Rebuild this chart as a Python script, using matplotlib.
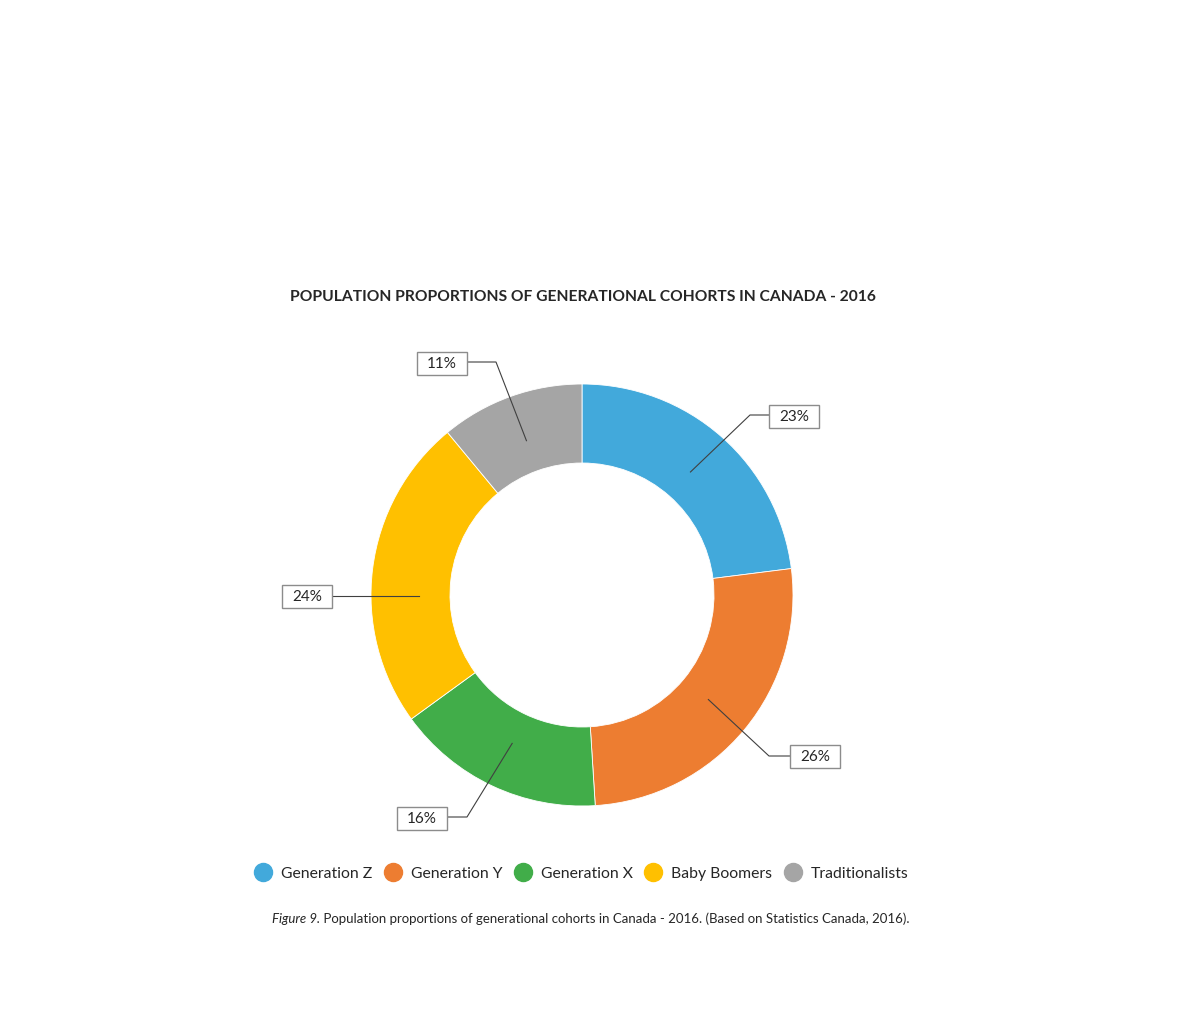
import numpy as np
import matplotlib
matplotlib.use("Agg")
from matplotlib import pyplot as plt
from matplotlib.patches import Rectangle
from matplotlib.lines import Line2D

plt.rcParams["font.family"] = ["Lato", "DejaVu Sans"]

# data
cohorts = ["Generation Z", "Generation Y", "Generation X", "Baby Boomers", "Traditionalists"]
shares = [23, 26, 16, 24, 11]
colors = ["#42A9DB", "#ED7D31", "#41AD49", "#FFC000", "#A5A5A5"]

title = "POPULATION PROPORTIONS OF GENERATIONAL COHORTS IN CANADA - 2016"
caption_italic = "Figure 9."
caption_rest = " Population proportions of generational cohorts in Canada - 2016. (Based on Statistics Canada, 2016)."

W, H = 1200, 1020
fig = plt.figure(figsize=(W / 100, H / 100), dpi=100)
ax = fig.add_axes([0, 0, 1, 1])

# donut, pixel coords (y up)
cx, cy = 582, H - 596
R = 211
ring = 79
wedges, _ = ax.pie(shares, colors=colors, startangle=90, counterclock=False,
                   radius=R, center=(cx, cy),
                   wedgeprops=dict(width=ring, edgecolor="white", linewidth=0.6))
ax.set_xlim(0, W)
ax.set_ylim(0, H)
ax.set_aspect("equal")
ax.axis("off")

# label callouts: elbow point (None = straight line) and box centre, top-down y
elbows = [(750, 416), (769, 757), (467, 818), None, (496, 363)]
boxes = [(794, 417), (815, 757), (421.5, 819), (307, 597), (441.5, 364)]
bw, bh = 50, 23
r_anchor = 164
for w, val, elb, (bx, by) in zip(wedges, shares, elbows, boxes):
    ang = np.deg2rad((w.theta1 + w.theta2) / 2)
    axp, ayp = cx + r_anchor * np.cos(ang), cy + r_anchor * np.sin(ang)
    by = H - by
    if elb is None:
        ex, ey = axp, by
        ayp = by
    else:
        ex, ey = elb[0], H - elb[1]
    edge = bx - bw / 2 if bx > cx else bx + bw / 2
    ax.plot([axp, ex, edge], [ayp, ey, ey], color="#404040", lw=0.8, zorder=3)
    ax.add_patch(Rectangle((bx - bw / 2, by - bh / 2), bw, bh, facecolor="white",
                           edgecolor="#8C8C8C", lw=1.0, zorder=4))
    ax.text(bx, by, f"{val}%", ha="center", va="center", fontsize=11,
            color="#262626", zorder=5)

# title
fig.text(583 / W, 1 - 297 / H, title, ha="center", va="center", fontsize=11.25,
         fontweight="bold", color="#262626")

# legend
handles = [Line2D([], [], marker="o", linestyle="none", markersize=13,
                  markerfacecolor=c, markeredgecolor=c) for c in colors]
fig.legend(handles, cohorts, loc="center", bbox_to_anchor=(582 / W, 1 - 874 / H),
           ncol=5, frameon=False, fontsize=11.3, handletextpad=0.65,
           columnspacing=0.8, handlelength=1.0, labelcolor="#262626")

# caption
t1 = fig.text(272 / W, 1 - 919 / H, caption_italic, ha="left", va="center",
              fontsize=9.5, style="italic", color="#262626")
fig.canvas.draw()
bb = t1.get_window_extent()
fig.text(bb.x1 / W, bb.y0 / H, caption_rest, ha="left", va="bottom", fontsize=9.5,
         color="#262626")

fig.savefig("out.png", dpi=100, facecolor="white")
